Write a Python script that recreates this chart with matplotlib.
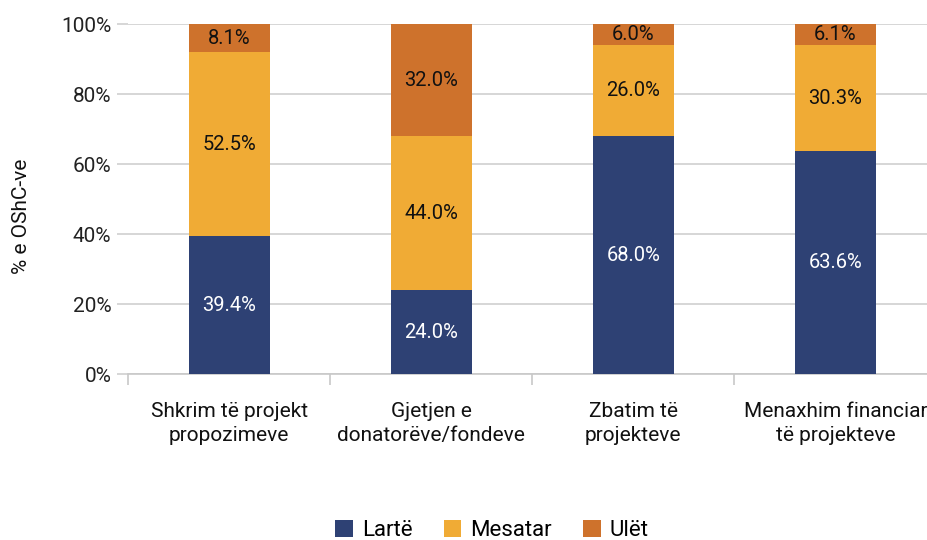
import matplotlib.pyplot as plt
import numpy as np

plt.rcParams['font.family'] = ['Roboto', 'DejaVu Sans']

kategorite = ['Shkrim të projekt\npropozimeve', 'Gjetjen e\ndonatorëve/fondeve',
              'Zbatim të\nprojekteve', 'Menaxhim financiar\ntë projekteve']
larte = [39.4, 24.0, 68.0, 63.6]
mesatar = [52.5, 44.0, 26.0, 30.3]
ulet = [8.1, 32.0, 6.0, 6.1]
seritë = ['Lartë', 'Mesatar', 'Ulët']
ngjyrat = ['#2E4174', '#F0AB35', '#CE722C']
ngjyrat_teksti = ['white', '#111111', '#111111']

fig = plt.figure(figsize=(9.28, 5.4), dpi=100)
ax = fig.add_axes([0.138, 0.3074, 0.871, 0.648])

x = np.arange(len(kategorite))
fund = np.zeros(len(kategorite))
for vlerat, emri, ngjyra, tc in zip([larte, mesatar, ulet], seritë, ngjyrat, ngjyrat_teksti):
    v = np.array(vlerat)
    ax.bar(x, v, 0.4, bottom=fund, color=ngjyra, label=emri, zorder=3)
    for xi, b, h in zip(x, fund, v):
        ax.text(xi, b + h / 2, f'{h:.1f}%', ha='center', va='center',
                fontsize=14.5, color=tc, zorder=4)
    fund += v

ax.set_xlim(-0.5, 3.5)
ax.set_ylim(0, 100)
ax.set_yticks(range(0, 101, 20))
ax.set_yticklabels([f'{t}%' for t in range(0, 101, 20)], fontsize=15, color='#222222')
ax.yaxis.grid(True, color='#d0d0d0', linewidth=1.2, zorder=0)
ax.tick_params(axis='y', length=8, color='#d0d0d0', width=1.2, pad=4)

ax.set_xticks(x)
ax.set_xticklabels(kategorite, fontsize=15, color='#111111', linespacing=1.35)
ax.tick_params(axis='x', length=0, pad=20)
ax.set_xticks(np.arange(-0.5, 3.6, 1), minor=True)
ax.tick_params(axis='x', which='minor', length=8, color='#c8c8c8', width=1.2)

for s in ['top', 'right', 'left']:
    ax.spines[s].set_visible(False)
ax.spines['bottom'].set_color('#c8c8c8')
ax.spines['bottom'].set_linewidth(1.2)

ax.set_ylabel('% e OShC-ve', fontsize=15, color='#111111')
ax.yaxis.set_label_coords(-0.12, 0.45)

fig.legend(loc='center', bbox_to_anchor=(0.53, 0.018), ncol=3, frameon=False,
           fontsize=16, handlelength=0.8, handleheight=0.8, columnspacing=1.4,
           handletextpad=0.4)

fig.savefig('out.png', dpi=100)
